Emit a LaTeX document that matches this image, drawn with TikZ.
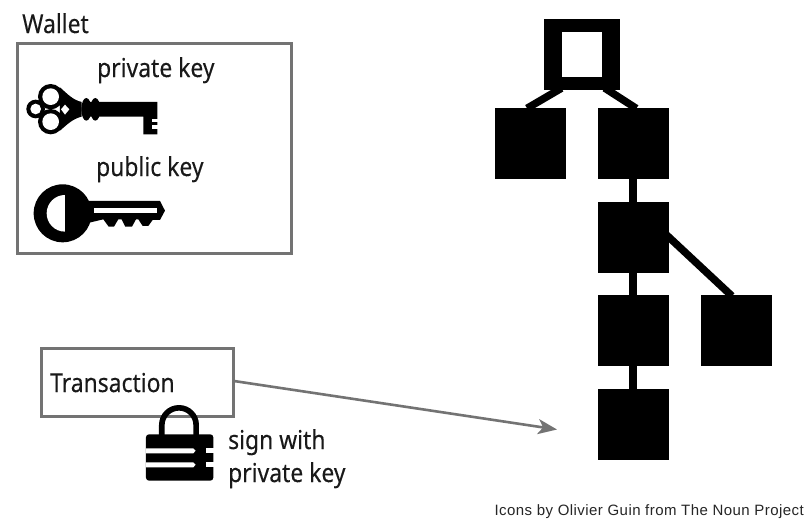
\documentclass[tikz,border=0pt]{standalone}
\usepackage{fontspec}
\setmainfont{Noto Sans}[FakeStretch=0.88,FakeBold=0.15]
\newfontfamily\creditfont{Liberation Sans}[LetterSpace=3]
\usetikzlibrary{arrows.meta}
\tikzset{
  frame/.style={draw=black!55,line width=3pt,fill=white,inner sep=0pt},
  blk/.style={fill=black,inner sep=0pt,minimum width=71pt,minimum height=71pt},
  edge/.style={line width=7.5pt,black,shorten <=-4pt,shorten >=-4pt},
  lbl/.style={inner sep=0pt,anchor=base west,font=\fontsize{26}{28}\selectfont,text=black!90},
  arrowline/.style={draw=black!55,line width=2.6pt,-{Stealth[length=19pt,width=15pt,inset=5pt]}},
  icon/.style={x=0.3333pt,y=-0.3333pt}
}
\begin{document}
\begin{tikzpicture}[x=1pt,y=-1pt]
\useasboundingbox (0,0) rectangle (810,520);
\fill[white] (0,0) rectangle (810,520);
% wallet
\node[frame,minimum width=274pt,minimum height=210pt] (wallet) at (154,148) {};
\node[lbl] (wt) at (22,33) {Wallet};
\node[lbl] (pk) at (97,77) {private key};
\node[lbl] (pub) at (96,176) {public key};
% private key icon
\begin{scope}[shift={(10,0)},icon]
\fill (122,290) circle (38);
\fill (77,327) circle (28);
\fill (122,365) circle (38);
\fill (150,262) .. controls (175,285) and (190,300) .. (215,306) -- (215,350) .. controls (190,356) and (175,370) .. (150,392) -- cycle;
\fill (229,328) ellipse (15 and 34);
\fill (256,328) ellipse (15 and 34);
\fill (225,306) -- (442,306) -- (442,403) -- (400,403) -- (400,350) -- (225,350) -- cycle;
\fill[white] (122,290) circle (25);
\fill[white] (77,327) circle (16);
\fill[white] (122,365) circle (25);
\fill[white] (165,314) -- (178,328) -- (165,344) -- (153,328) -- cycle;
\fill[white] (425,357) rectangle (444,367);
\fill[white] (425,376) rectangle (444,386);
% public key icon
\fill (158,640) circle (87);
\fill (230,603) -- (450,603) -- (465,632) -- (450,660) -- (428,660) -- (415,678) -- (398,678) -- (385,658) -- (378,658) -- (366,680) -- (346,680) -- (335,658) -- (325,658) -- (312,680) -- (296,680) -- (280,658) -- (230,670) -- cycle;
\fill[white] (165,585) arc[start angle=270,end angle=90,radius=55] -- cycle;
\fill[white] (253,625) rectangle (440,640);
\end{scope}
% transaction
\node[frame,minimum width=192pt,minimum height=68pt] (tx) at (137,382) {};
\node[lbl] (txt) at (50,392) {Transaction};
\coordinate (txout) at (234,381);
% padlock
\begin{scope}[shift={(30,340)},icon]
\fill (404,290) -- (404,255) arc[start angle=180,end angle=360,radius=43] -- (490,290) -- (507,290) -- (507,255) arc[start angle=360,end angle=180,radius=60] -- (387,290) -- cycle;
\fill[rounded corners=3pt] (348,283) rectangle (550,422);
\fill[white] (348,325) -- (490,325) -- (497,332) -- (490,340) -- (348,340) -- cycle;
\fill[white] (348,367) -- (490,367) -- (497,374) -- (490,382) -- (348,382) -- cycle;
\fill[white] (528,325) rectangle (551,340);
\fill[white] (528,367) rectangle (551,382);
\end{scope}
\node[lbl] (sw) at (228,449) {sign with};
\node[lbl] (spk) at (228,482) {private key};
% tree
\node[blk,minimum width=76pt,minimum height=71pt] (root) at (582,54.5) {};
\fill[white] (562,32.3) rectangle (602.3,76.7);
\node[blk] (a) at (530.5,143) {};
\node[blk] (b) at (633,143) {};
\node[blk] (c) at (633,237) {};
\node[blk] (d) at (633,330) {};
\node[blk] (e) at (736,330) {};
\node[blk] (f) at (633,424) {};
\draw[edge] ([xshift=-24pt]root.south) -- ([yshift=1pt]a.north);
\draw[edge] ([xshift=26pt]root.south) -- ([yshift=1pt]b.north);
\draw[edge] (b.south) -- (c.north);
\draw[edge] (c.south) -- (d.north);
\draw[edge] (d.south) -- (f.north);
\draw[edge] (c.east) -- ([xshift=-7pt,yshift=1pt]e.north);
\coordinate (txin) at (557,429.5);
\draw[arrowline] (txout) -- (txin);
\node[inner sep=0pt,anchor=base east,font=\creditfont\fontsize{15}{17}\selectfont,text=black!85] (cr) at (804,515.5) {Icons by Olivier Guin from The Noun Project};
\end{tikzpicture}
\end{document}
